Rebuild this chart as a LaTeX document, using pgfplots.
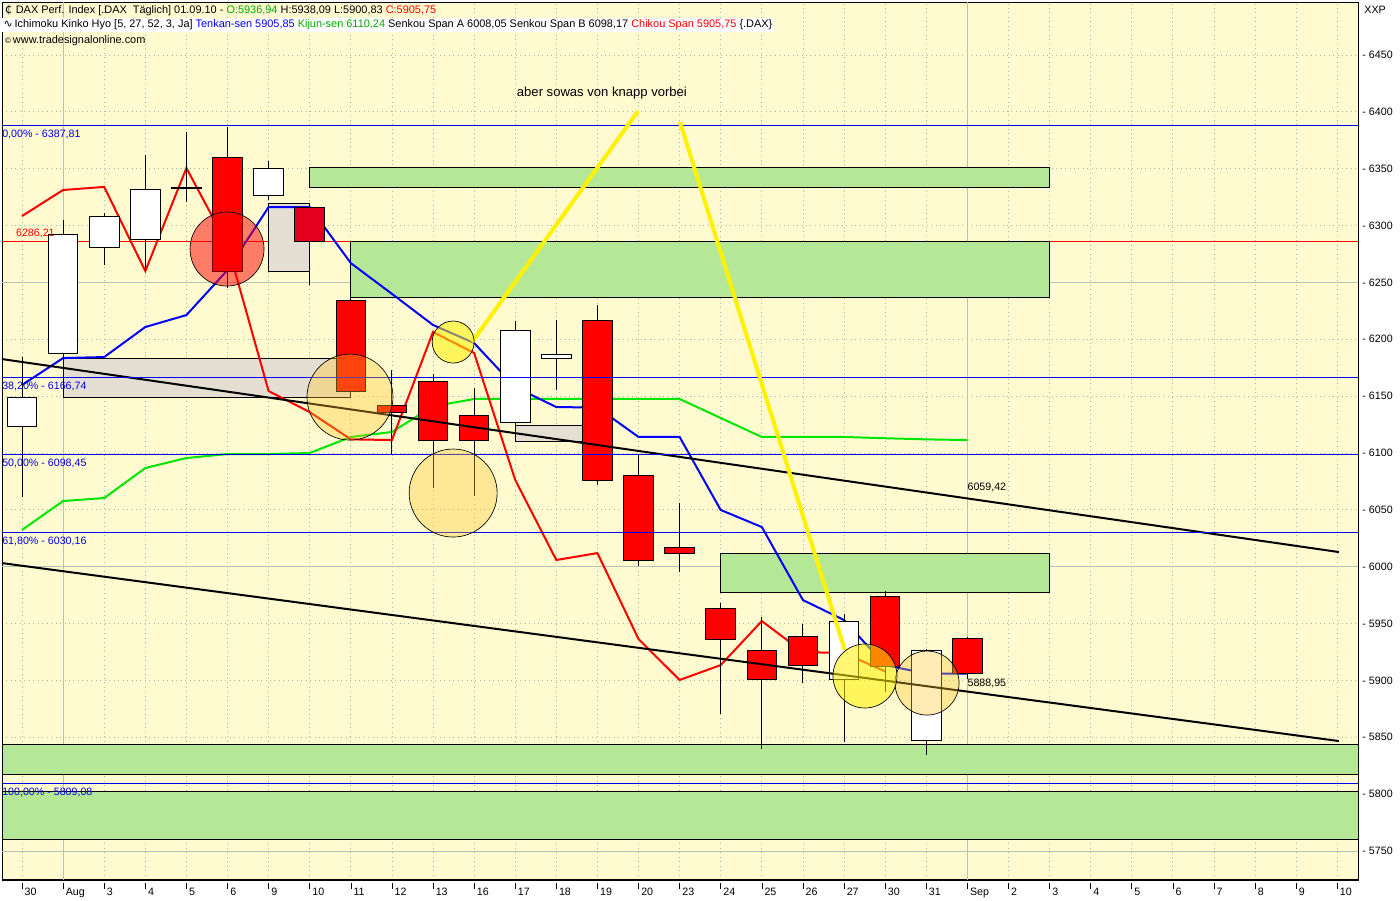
\documentclass[border=0pt]{standalone}
\usepackage{fontspec}
\setmainfont{Liberation Sans}
\newfontfamily\dejavu{DejaVu Sans}
\usepackage{pgfplots}
\pgfplotsset{compat=1.18}

\definecolor{bgy}{RGB}{255,250,208}
\definecolor{zone}{RGB}{181,232,150}
\definecolor{boxg}{RGB}{229,223,211}
\definecolor{gridc}{RGB}{160,188,172}
\definecolor{gridl}{RGB}{178,196,184}
\definecolor{fibb}{RGB}{0,0,235}
\definecolor{kij}{RGB}{0,230,0}
\definecolor{crim}{RGB}{226,0,30}
\definecolor{ycirc}{RGB}{255,200,40}
\definecolor{hgreen}{RGB}{0,170,0}

% one candle: fill, x, open, high, low, close
\newcommand{\candle}[6]{%
  \pgfmathsetmacro{\xl}{#2-0.36}\pgfmathsetmacro{\xr}{#2+0.36}%
  \addplot[black, line width=0.75pt] coordinates {(#2,#4) (#2,#5)};
  \addplot[draw=black, fill=#1, line width=0.75pt] coordinates {(\xl,#3) (\xr,#3) (\xr,#6) (\xl,#6)} -- cycle;
}
\newcommand{\tk}{\rule[4.5pt]{0.75pt}{4.5pt}\hspace{1.5pt}}
\newcommand{\hdr}{\fontsize{8}{9}\selectfont}
\newcommand{\hdrb}{\fontsize{8.2}{9}\selectfont}

\begin{document}
\begin{tikzpicture}
\path[use as bounding box] (-1.5pt,-15pt) rectangle (1048.5pt,660pt);
\fill[white] (-1.5pt,-15pt) rectangle (1048.5pt,660pt);
\begin{axis}[
    x=30.825pt, y=0.852825pt,
    xmin=-0.487, xmax=32.51,
    ymin=5724.5, ymax=6496.6,
    clip=false,
    axis background/.style={fill=bgy},
    axis line style={black, line width=0.75pt},
    major tick length=0pt,
    xtick={0,...,32},
    xticklabels={\tk 30,\tk Aug,\tk 3,\tk 4,\tk 5,\tk 6,\tk 9,\tk 10,\tk 11,\tk 12,\tk 13,\tk 16,\tk 17,\tk 18,\tk 19,\tk 20,\tk 23,\tk 24,\tk 25,\tk 26,\tk 27,\tk 30,\tk 31,\tk Sep,\tk 2,\tk 3,\tk 4,\tk 5,\tk 6,\tk 7,\tk 8,\tk 9,\tk 10},
    ytick={5750,5800,...,6450},
    yticklabels={- 5750,- 5800,- 5850,- 5900,- 5950,- 6000,- 6050,- 6100,- 6150,- 6200,- 6250,- 6300,- 6350,- 6400,- 6450},
    xtick pos=bottom, ytick pos=right,
    grid=major,
    grid style={gridc, line width=0.6pt, dash pattern=on 0.75pt off 2.6pt},
    tick label style={font=\hdr},
    xticklabel style={anchor=north west, inner sep=0pt, xshift=-0.4pt, yshift=-2.25pt},
    yticklabel style={anchor=west, inner sep=0pt, xshift=3pt},
]
% solid grid lines
\addplot[gridl, line width=0.75pt] coordinates {(1,5724.5) (1,6496.6)};
\addplot[gridl, line width=0.75pt] coordinates {(23,5724.5) (23,6496.6)};
\addplot[gridl, line width=0.75pt] coordinates {(-0.487,5750) (32.51,5750)};
\addplot[gridl, line width=0.75pt] coordinates {(-0.487,6000) (32.51,6000)};
\addplot[gridl, line width=0.75pt] coordinates {(-0.487,6250) (32.51,6250)};

% red level 6286,21
\addplot[red, line width=0.75pt] coordinates {(-0.487,6286.21) (8,6286.21)};
\addplot[red, line width=0.75pt] coordinates {(25,6286.21) (32.51,6286.21)};

% green zones
\addplot[draw=black, fill=zone, line width=0.75pt] coordinates {(7,6333.9) (25,6333.9) (25,6351.5) (7,6351.5)} -- cycle;
\addplot[draw=black, fill=zone, line width=0.75pt] coordinates {(8,6237.2) (25,6237.2) (25,6286.4) (8,6286.4)} -- cycle;
\addplot[draw=black, fill=zone, line width=0.75pt] coordinates {(17,5977.7) (25,5977.7) (25,6012) (17,6012)} -- cycle;
\addplot[draw=black, fill=zone, line width=0.75pt] coordinates {(-0.487,5817.7) (32.51,5817.7) (32.51,5844.1) (-0.487,5844.1)} -- cycle;
\addplot[draw=black, fill=zone, line width=0.75pt] coordinates {(-0.487,5760.5) (32.51,5760.5) (32.51,5802.7) (-0.487,5802.7)} -- cycle;

% grey boxes
\addplot[draw=black, fill=boxg, line width=0.75pt] coordinates {(6,6260) (7,6260) (7,6319) (6,6319)} -- cycle;
\addplot[draw=black, fill=boxg, line width=0.75pt] coordinates {(1,6149.2) (8,6149.2) (8,6183.5) (1,6183.5)} -- cycle;
\addplot[draw=black, fill=boxg, line width=0.75pt] coordinates {(12,6110.5) (14,6110.5) (14,6124.6) (12,6124.6)} -- cycle;

% Kijun-sen
\addplot[kij, line width=1.5pt] coordinates {
(0,6032.3) (1,6057.8) (2,6060.4) (3,6086.8) (4,6095.6) (5,6099.1) (6,6099.1) (7,6100)
(8,6114.1) (9,6118.5) (10,6141) (11,6147.5) (12,6147.5) (13,6147.5) (14,6147.5) (15,6147.5)
(16,6147.5) (17,6130.8) (18,6114.1) (19,6114.1) (20,6114.1) (21,6113) (22,6112) (23,6111.4)};
% Tenkan-sen
\addplot[blue, line width=1.5pt] coordinates {
(0,6159.8) (1,6183.5) (2,6184.4) (3,6210.8) (4,6221.3) (5,6260.9) (6,6316.3) (7,6316.3)
(8,6267) (9,6240) (10,6212.6) (11,6196.7) (12,6158) (13,6140.4) (14,6140) (15,6114.1)
(16,6114.1) (17,6049.9) (18,6034.9) (19,5970.7) (20,5953.1) (21,5913.5) (22,5906) (23,5906)};
% Chikou span
\addplot[red, line width=1.5pt] coordinates {
(0,6308.4) (1,6331.3) (2,6334) (3,6260) (4,6350.6) (5,6283) (6,6154.5) (7,6136)
(8,6112) (9,6111.4) (10,6206.4) (11,6188) (12,6076.3) (13,6005.9) (14,6012) (15,5936.4)
(16,5900.4) (17,5913.5) (18,5952.2) (19,5925) (20,5924) (21,5908)};

% red circle
\addplot[only marks, mark=*, mark size=27.75pt, mark options={draw=black, line width=0.5pt, fill=red, fill opacity=0.5}] coordinates {(4.988,6279.4)};

% candles
\candle{white}{0}{6123.7}{6184}{6061}{6148.4}
\candle{white}{1}{6187.9}{6304.9}{6183.5}{6292.6}
\candle{white}{2}{6280.3}{6311}{6265.3}{6308.4}
\candle{white}{3}{6288.2}{6362}{6261}{6331.3}
\candle{white}{4}{6333.5}{6382.3}{6320.7}{6332.5}
\candle{red}{5}{6360.3}{6386.7}{6245}{6259.2}
\candle{white}{6}{6326.9}{6356.8}{6322.5}{6350.6}
\candle{crim}{7}{6316.3}{6318}{6247.7}{6286.4}
\candle{red}{8}{6234.5}{6236}{6150}{6154.5}
\candle{red}{9}{6142.2}{6173}{6098.2}{6136}
\candle{red}{10}{6163.3}{6169.5}{6069}{6111.4}
\candle{red}{11}{6133.4}{6157.1}{6062.2}{6111.4}
\candle{white}{12}{6126.4}{6216.1}{6122}{6207.3}
\candle{white}{13}{6183.5}{6217}{6155.4}{6187}
\candle{red}{14}{6216.1}{6230.1}{6071.8}{6076.2}
\candle{red}{15}{6080.6}{6098.2}{6000.6}{6005.9}
\candle{red}{16}{6017.3}{6056}{5995.3}{6012}
\candle{red}{17}{5963.7}{5968}{5870.5}{5936.4}
\candle{red}{18}{5925.9}{5955.8}{5839.7}{5900.4}
\candle{red}{19}{5938.2}{5949.6}{5897.7}{5913.5}
\candle{white}{20}{5901.2}{5958.4}{5845.8}{5951.4}
\candle{red}{21}{5974.2}{5978.6}{5889.8}{5912.6}
\candle{white}{22}{5847.6}{5927.5}{5834.4}{5926.7}
\candle{red}{23}{5936.94}{5938.09}{5900.83}{5905.75}

% trend lines
\addplot[black, line width=1.5pt] coordinates {(-0.487,6182.6) (32.04,6012.9)};
\addplot[black, line width=1.5pt] coordinates {(-0.487,6003.2) (32.04,5846.7)};

% yellow circles
\addplot[only marks, mark=*, mark size=32.25pt, mark options={draw=black, line width=0.5pt, fill=ycirc, fill opacity=0.35}] coordinates {(7.98,6149.2)};
\addplot[only marks, mark=*, mark size=33pt, mark options={draw=black, line width=0.5pt, fill=ycirc, fill opacity=0.35}] coordinates {(10.49,6064.8)};
\addplot[only marks, mark=*, mark size=24pt, mark options={draw=black, line width=0.5pt, fill=ycirc, fill opacity=0.35}] coordinates {(22.02,5897.7)};
\addplot[only marks, mark=*, mark size=15.75pt, mark options={draw=black, line width=0.5pt, fill=yellow, fill opacity=0.55}] coordinates {(10.49,6197.6)};
\addplot[only marks, mark=*, mark size=24pt, mark options={draw=black, line width=0.5pt, fill=yellow, fill opacity=0.55}] coordinates {(20.51,5903.9)};

% Fibonacci levels
\addplot[fibb, line width=0.75pt] coordinates {(-0.487,6387.81) (32.51,6387.81)};
\addplot[fibb, line width=0.75pt] coordinates {(-0.487,6166.74) (32.51,6166.74)};
\addplot[fibb, line width=0.75pt] coordinates {(-0.487,6098.45) (32.51,6098.45)};
\addplot[fibb, line width=0.75pt] coordinates {(-0.487,6030.16) (32.51,6030.16)};
\addplot[fibb, line width=0.75pt] coordinates {(-0.487,5809.08) (32.51,5809.08)};

% yellow arrows
\addplot[yellow, line width=3pt] coordinates {(10.95,6197.6) (14.99,6400.8)};
\addplot[yellow, line width=3pt] coordinates {(16.01,6391.1) (20.02,5926.7)};

% labels
\node[anchor=north west, inner sep=0pt, font=\hdr, text=fibb] at (axis cs:-0.487,6384) {0,00\% - 6387,81};
\node[anchor=north west, inner sep=0pt, font=\hdr, text=fibb] at (axis cs:-0.487,6163) {38,20\% - 6166,74};
\node[anchor=north west, inner sep=0pt, font=\hdr, text=fibb] at (axis cs:-0.487,6094.5) {50,00\% - 6098,45};
\node[anchor=north west, inner sep=0pt, font=\hdr, text=fibb] at (axis cs:-0.487,6026.5) {61,80\% - 6030,16};
\node[anchor=north west, inner sep=0pt, font=\hdr, text=fibb] at (axis cs:-0.487,5805.5) {100,00\% - 5809,08};
\node[anchor=south west, inner sep=0pt, font=\hdr, text=red] at (axis cs:-0.15,6289) {6286,21};
\node[anchor=south west, inner sep=0pt, font=\hdr] at (axis cs:23,6066) {6059,42};
\node[anchor=south west, inner sep=0pt, font=\hdr] at (axis cs:23,5893) {5888,95};
\node[font=\fontsize{9.8}{11}\selectfont] at (axis cs:14.11,6416.6) {aber sowas von knapp vorbei};

% header
\node[anchor=west, inner sep=0pt, font=\hdrb] at (rel axis cs:0.0022,0.9909)
  {{\dejavu ₵}\,\,DAX Perf. Index [.DAX\ \ Täglich] 01.09.10 - \textcolor{hgreen}{O:5936,94} H:5938,09 L:5900,83 \textcolor{red}{C:5905,75}};
\node[anchor=west, inner xsep=1pt, inner ysep=1.5pt, fill=white, font=\hdrb] at (rel axis cs:0,0.9738)
  {{\dejavu ∿}\,Ichimoku Kinko Hyo [5, 27, 52, 3, Ja] \textcolor{blue}{Tenkan-sen 5905,85} \textcolor{hgreen}{Kijun-sen 6110,24} Senkou Span A 6008,05 Senkou Span B 6098,17 \textcolor{red}{Chikou Span 5905,75} \{.DAX\}};
\node[anchor=west, inner sep=0pt, font=\hdrb] at (rel axis cs:0.0022,0.9556)
  {{\fontsize{6}{6}\selectfont ©}\,www.tradesignalonline.com};
\node[anchor=west, inner sep=0pt, font=\hdr] at (rel axis cs:1.0044,0.9909) {XXP};
\end{axis}
\end{tikzpicture}
\end{document}
